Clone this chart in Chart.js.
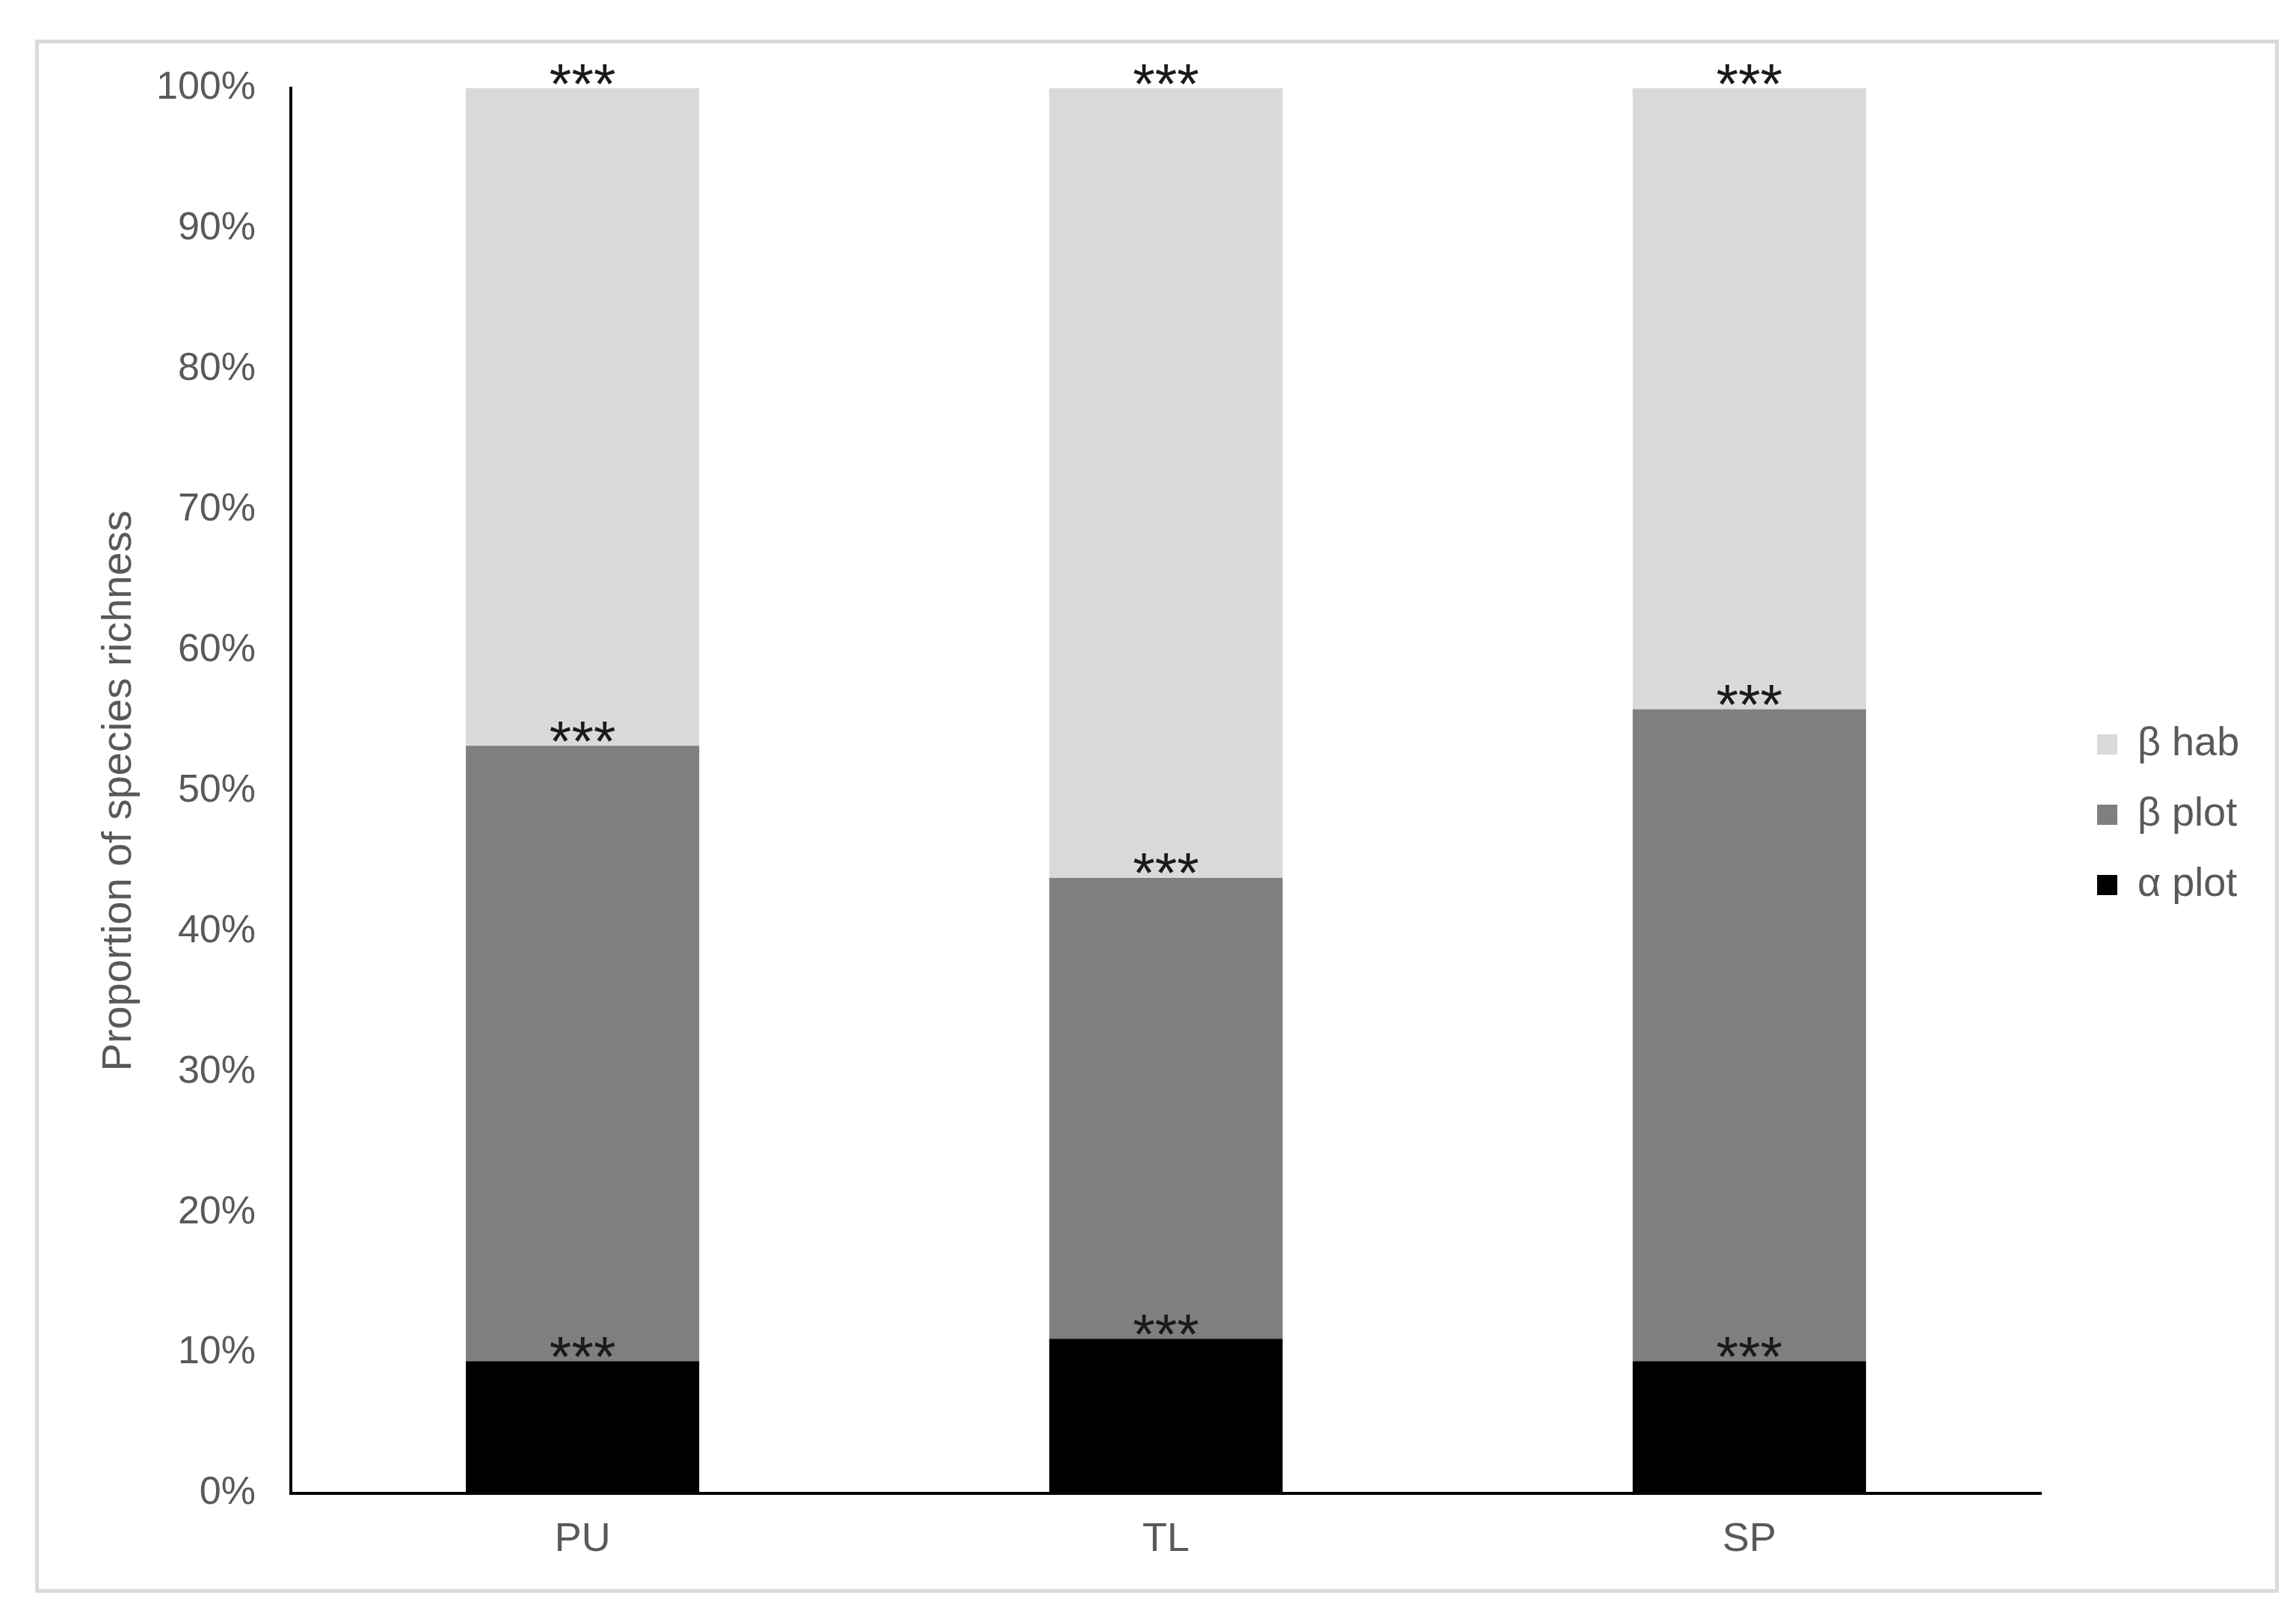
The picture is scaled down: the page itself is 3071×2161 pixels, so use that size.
<!DOCTYPE html>
<html>
<head>
<meta charset="utf-8">
<title>Proportion of species richness</title>
<script src="https://cdn.jsdelivr.net/npm/chart.js@4/dist/chart.umd.min.js"></script>
<style>
   html, body { margin: 0; padding: 0; background: #fff; overflow: hidden; }
   #frame {
      position: absolute; left: 47px; top: 53px;
      width: 3001px; height: 2077px;
      box-sizing: border-box; border: 5px solid #d9d9d9;
      pointer-events: none;
   }
   #canvasRichness { position: absolute; left: 0; top: 0; }
</style>
</head>
<body>
<canvas id="canvasRichness" width="3071" height="2161"></canvas>
<div id="frame"></div>
<script>

/* sites */
const sites = ["PU", "TL", "SP"];

/* share of species richness (%) per component, bottom -> top */
const alphaPlot = [9.4, 11.0, 9.4];
const betaPlot = [43.8, 32.8, 46.4];
const betaHab = [46.8, 56.2, 44.2];

/* significance marks above each segment */
const alphaSig = ["***", "***", "***"];
const betaPlotSig = ["***", "***", "***"];
const betaHabSig = ["***", "***", "***"];

/* y axis ticks */
const yTicks = [0, 10, 20, 30, 40, 50, 60, 70, 80, 90, 100];

const FONT = "'Liberation Sans', Arial, Helvetica, sans-serif";
const TEXT = "#595959";

Chart.defaults.font.family = FONT;
Chart.defaults.color = TEXT;

/* legend geometry */
const LEG_FONT = 54, LEG_BOX = 27, LEG_PAD = 40, GAP = 35;
const PLOT_RIGHT = 2730, CANVAS_W = 3071;

/* widest legend text, so the plot keeps its right edge */
function legendWidth(names) {
   let c = document.createElement("canvas").getContext("2d");
   c.font = LEG_FONT + "px " + FONT;
   let tw = Math.max(...names.map(n => c.measureText(n).width));
   return LEG_PAD + LEG_BOX + LEG_FONT / 2 + tw + 10;
}

/* draws the *** marks just above the top of every bar segment */
const sigMarks = {
   id: "sigMarks",
   afterDatasetsDraw(chart) {
      let ctx = chart.ctx;
      ctx.save();
      ctx.font = "76px " + FONT;
      ctx.fillStyle = "#1a1a1a";
      ctx.textAlign = "center";
      ctx.textBaseline = "alphabetic";
      chart.data.datasets.forEach((ds, i) => {
         let meta = chart.getDatasetMeta(i);
         meta.data.forEach((bar, j) => {
            let txt = ds.sig[j];
            if (!txt) return;
            let m = ctx.measureText(txt);
            let mid = (m.actualBoundingBoxAscent - m.actualBoundingBoxDescent) / 2;
            ctx.fillText(txt, bar.x, bar.y - 19 + mid);
         });
      });
      ctx.restore();
   }
};

let ctx = document.getElementById("canvasRichness");

let datasets = [
   { label: "α plot", data: alphaPlot, sig: alphaSig, backgroundColor: "#000000" },
   { label: "β plot", data: betaPlot, sig: betaPlotSig, backgroundColor: "#7f7f7f" },
   { label: "β hab", data: betaHab, sig: betaHabSig, backgroundColor: "#d9d9d9" }
];

let padRight = CANVAS_W - PLOT_RIGHT - GAP - legendWidth(datasets.map(d => d.label));

let conf = {
   type: "bar",
   data: {
      labels: sites,
      datasets: datasets
   },
   options: {
      responsive: false,
      animation: false,
      devicePixelRatio: 1,
      borderWidth: 0,
      barPercentage: 0.4,
      categoryPercentage: 1.0,
      layout: {
         padding: { left: 100, top: 118, right: padRight, bottom: 0 }
      },
      scales: {
         x: {
            stacked: true,
            grid: { display: false, drawTicks: false },
            border: { display: true, color: "#000000", width: 4 },
            ticks: { font: { size: 54 }, color: TEXT, padding: 30 },
            afterFit: (s) => { s.height = 164; }
         },
         y: {
            stacked: true,
            min: 0,
            max: 100,
            afterBuildTicks: (s) => { s.ticks = yTicks.map(v => ({ value: v })); },
            grid: { display: false, drawTicks: false },
            border: { display: true, color: "#000000", width: 4 },
            ticks: {
               font: { size: 52 },
               color: TEXT,
               padding: 47,
               callback: (v) => v + "%"
            },
            title: {
               display: true,
               text: "Proportion of species richness",
               font: { size: 56 },
               color: TEXT,
               padding: { top: 26, bottom: 0 }
            },
            afterFit: (s) => { s.width = 289; }
         },
         /* empty spacer between plot and legend */
         gap: {
            type: "linear",
            position: "right",
            display: true,
            grid: { display: false },
            border: { display: false },
            ticks: { display: false },
            afterFit: (s) => { s.width = GAP; }
         }
      },
      plugins: {
         legend: {
            display: true,
            position: "right",
            fullSize: false,
            reverse: true,
            title: { display: true, text: " ", font: { size: 10 }, padding: { top: 0, bottom: 52 } },
            labels: {
               boxWidth: LEG_BOX,
               boxHeight: LEG_BOX,
               padding: LEG_PAD,
               color: TEXT,
               font: { size: LEG_FONT }
            }
         },
         tooltip: { enabled: false }
      }
   },
   plugins: [sigMarks]
};

new Chart(ctx, conf);

</script>
</body>
</html>
